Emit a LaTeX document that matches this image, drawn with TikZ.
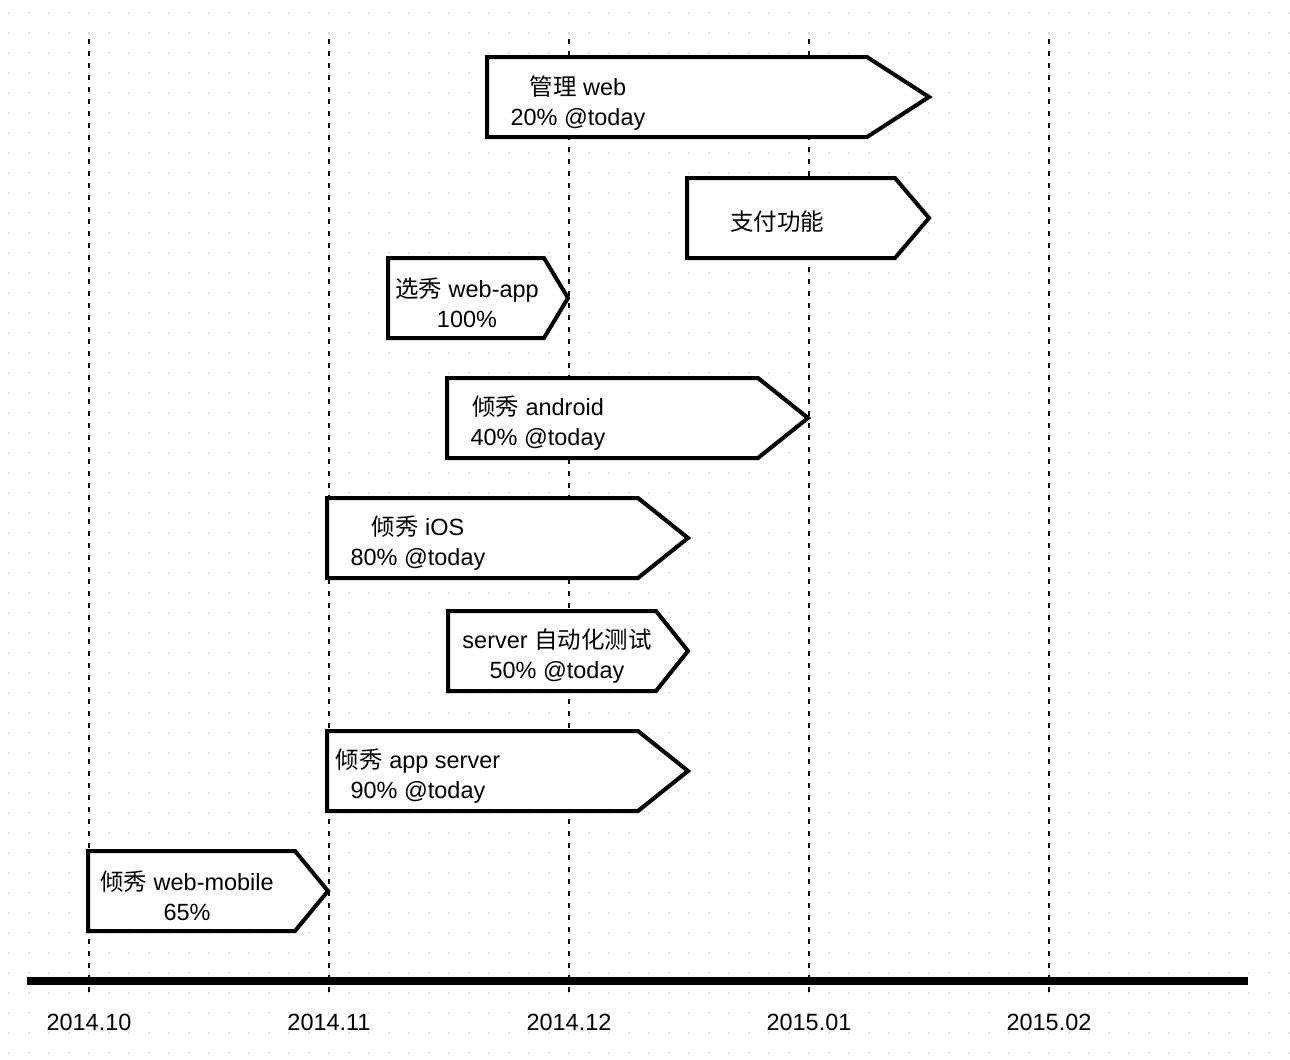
\documentclass[tikz,border=0pt]{standalone}
\usepackage{fontspec}
\setmainfont{Liberation Sans}
\newfontfamily\cjk{Noto Sans CJK SC}
\newcommand{\zh}[1]{{\cjk #1}}
\usetikzlibrary{calc}

\tikzset{
  task/.style={draw=black, fill=white, line width=3pt, line join=miter},
  tasktext/.style={align=center, inner sep=0pt, font=\fontsize{17.6}{22.5}\selectfont},
  month/.style={inner sep=0pt, font=\fontsize{17.6}{22.5}\selectfont},
  monthline/.style={line width=1.5pt, dash pattern=on 4pt off 5pt},
}

\begin{document}
\begin{tikzpicture}[x=0.75pt,y=-0.75pt]

      \useasboundingbox (0,0) rectangle (1290,1060);
      \fill[white] (0,0) rectangle (1290,1060);

      % dotted paper
      \foreach \i in {0,...,64}
        \foreach \j in {0,...,52}
          \fill[black!22] (9+20*\i,13+20*\j) circle (0.9);

      % month lines
      \foreach \m [count=\k from 0] in {2014.10,2014.11,2014.12,2015.01,2015.02} {
        \draw[monthline] (89+240*\k,39) -- (89+240*\k,992);
        \node[month] (m\k) at (89+240*\k,1022) {\m};
      }

      % time axis
      \draw[line width=6pt] (27,981) -- (1248,981);

      % tasks: left / right / tip / middle
      \foreach \l/\r/\t/\c in {487/867/929/97, 687/895/929/218, 388/544/568/298,
                               447/758/808/418, 327/638/688/538, 448/656/688/651,
                               327/638/688/771, 88/295/328/891}
        \draw[task] (\l,\c-40) -- (\r,\c-40) -- (\t,\c) -- (\r,\c+40) -- (\l,\c+40) -- cycle;

      \node[tasktext] (web)     at (578,103) {\zh{管理} web\\20\% @today};
      \node[tasktext] (pay)     at (777,222) {\zh{支付功能}};
      \node[tasktext] (webapp)  at (467,303) {\zh{选秀} web-app\\100\%};
      \node[tasktext] (android) at (538,423) {\zh{倾秀} android\\40\% @today};
      \node[tasktext] (ios)     at (418,543) {\zh{倾秀} iOS\\80\% @today};
      \node[tasktext] (test)    at (557,656) {server \zh{自动化测试}\\50\% @today};
      \node[tasktext] (server)  at (418,776) {\zh{倾秀} app server\\90\% @today};
      \node[tasktext] (mobile)  at (187,896) {\zh{倾秀} web-mobile\\65\%};

    \end{tikzpicture}
\end{document}
